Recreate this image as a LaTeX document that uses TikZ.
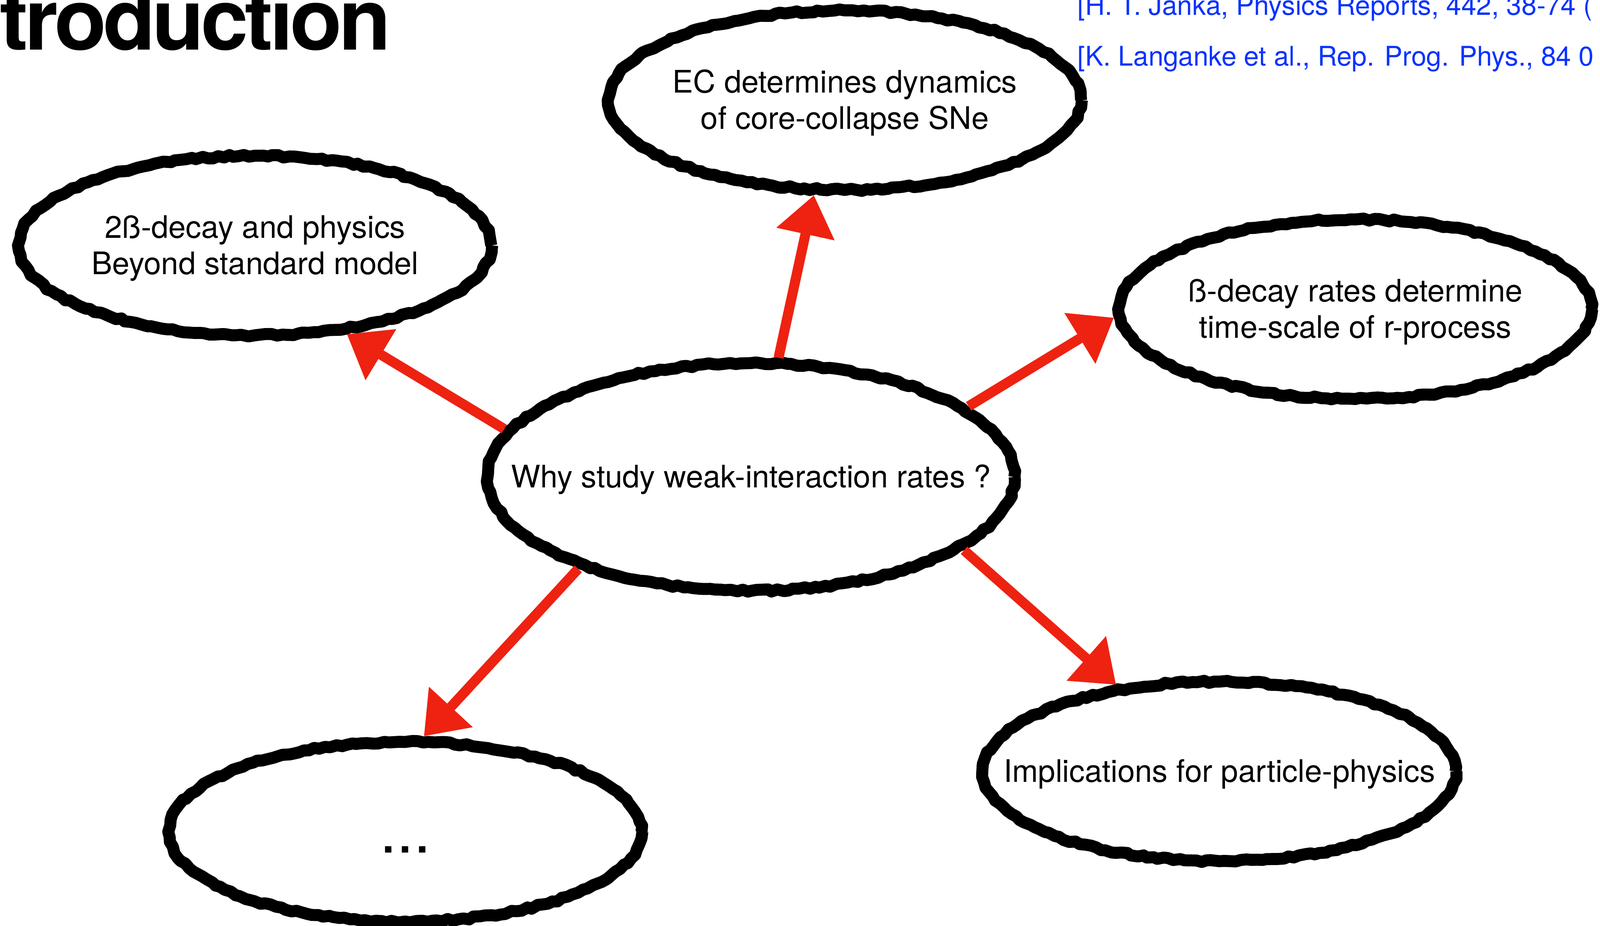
\documentclass[tikz,border=0pt]{standalone}
\usepackage{fontspec}
\setmainfont{TeX Gyre Heros}
\newfontfamily\titlefont[LetterSpace=-4]{TeX Gyre Heros}
\usetikzlibrary{shapes,arrows.meta,decorations.pathmorphing}
\definecolor{chalkred}{RGB}{238,34,17}
\definecolor{refblue}{RGB}{10,50,255}
\newcommand{\bubbletext}[1]{\makebox[0pt]{\raisebox{-2.6pt}[\height][\depth]{\begin{tabular}{@{}c@{}}#1\end{tabular}}}}
\tikzstyle{bubble} = [ellipse, draw, line width=9pt, line join=round, inner sep=0pt, minimum width=12.45cm, minimum height=4.73cm, font=\fontsize{23.3}{27.2}\selectfont, decorate, decoration={random steps, segment length=4pt, amplitude=0.9pt}]
\tikzstyle{line} = [draw, chalkred, line width=7.5pt, -{Triangle[width=1.5cm, length=1.05cm]}]
\tikzstyle{ref} = [anchor=base west, inner sep=0pt, text=refblue, font=\fontsize{20.3}{24}\selectfont]

\begin{document}
\begin{tikzpicture}[y=-1cm]
		\useasboundingbox (0,0) rectangle (42.16,24.40);
		\clip (0,0) rectangle (42.16,24.40);

		\node [anchor=base east, inner sep=0pt, font=\titlefont\fontsize{64}{70}\selectfont\bfseries] (title) at (10.31,1.31) {Introduction};
		\node [ref] (janka) at (28.39,0.40) {[H. T. Janka, Physics Reports, 442, 38-74 (};
		\node [ref] (langanke) at (28.39,1.73) {[K. Langanke et al., Rep. Prog. Phys., 84 0};

		\node [bubble, minimum width=13.88cm, minimum height=6.00cm] (why) at (19.79,12.57) {\bubbletext{Why study weak-interaction rates ?}};
		\node [bubble] (ec) at (22.26,2.64) {\bubbletext{EC determines dynamics\\of core-collapse SNe}};
		\node [bubble] (bsm) at (6.72,6.47) {\bubbletext{2ß-decay and physics\\Beyond standard model}};
		\node [bubble] (rproc) at (35.71,8.15) {\bubbletext{ß-decay rates determine\\time-scale of r-process}};
		\node [bubble] (more) at (10.68,21.92) {\smash{\raisebox{-15.9pt}{\fontsize{46}{50}\selectfont ...}}};
		\node [bubble] (particle) at (32.13,20.33) {\bubbletext{Implications for particle-physics}};

		\path [line] (why.77) -- (ec.-108);
		\path [line] (why.169) -- (bsm.-44);
		\path [line] (why.18) -- (rproc.182);
		\path [line] (why.208) -- (more.79);
		\path [line] (why.-19) -- (particle.140);
	\end{tikzpicture}
\end{document}
